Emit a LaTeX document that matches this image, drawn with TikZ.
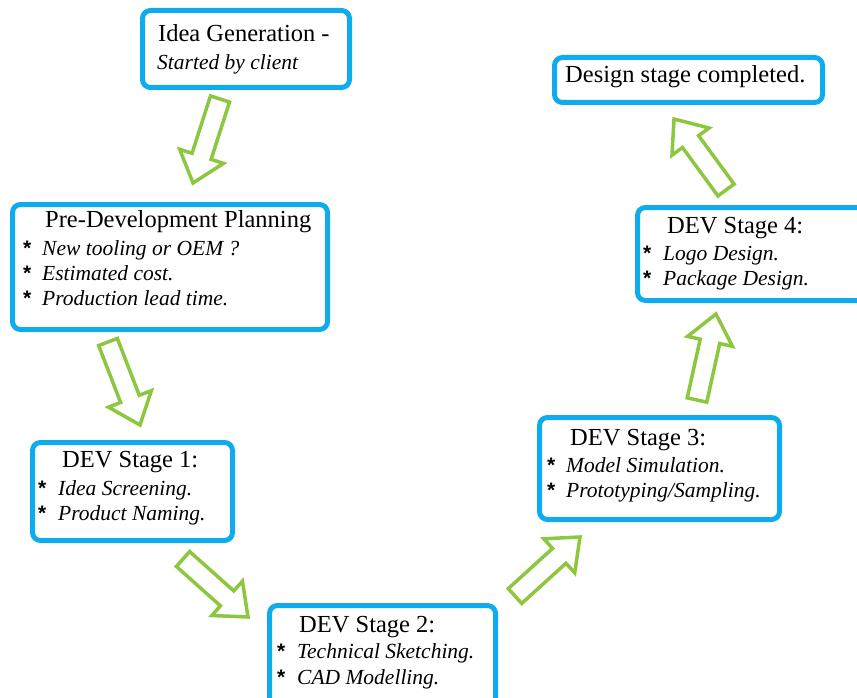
\documentclass[tikz,border=0pt]{standalone}
\usepackage{fontspec}
\setmainfont{Liberation Serif}
\newfontfamily\bulletfont{Liberation Sans}
\usetikzlibrary{calc}
\definecolor{boxblue}{RGB}{14,172,236}
\definecolor{arrowgreen}{RGB}{141,198,63}
\tikzset{
  stagebox/.style={draw=boxblue, line width=5pt, rounded corners=8pt, fill=white, inner sep=0pt, anchor=north west},
  titletext/.style={anchor=base west, inner sep=0pt, font=\fontsize{24.5}{28}\selectfont},
  itemtext/.style={anchor=base west, inner sep=0pt, font=\fontsize{21.5}{26}\selectfont\itshape},
  startext/.style={anchor=base west, inner sep=0pt, font=\fontsize{21}{24}\bulletfont\bfseries},
  blockarrow/.style={draw=arrowgreen, line width=3.5pt, fill=white, line join=miter},
}
\newcommand\hollowarrow[2]{%
  \coordinate (#1-h) at ($(#2)!28pt!(#1)$);
  \draw[blockarrow] ($(#1)!10pt!90:(#2)$) -- ($(#1-h)!10pt!90:(#2)$) -- ($(#1-h)!23pt!90:(#2)$)
    -- (#2) -- ($(#1-h)!23pt!-90:(#2)$) -- ($(#1-h)!10pt!-90:(#2)$) -- ($(#1)!10pt!-90:(#2)$) -- cycle;
}
\begin{document}
\begin{tikzpicture}[x=1pt,y=-1pt]
\useasboundingbox (0,0) rectangle (857,698);
\clip (0,0) rectangle (857,698);
\fill[white] (0,0) rectangle (857,698);

% boxes
\node[stagebox, minimum width=207pt, minimum height=77pt] (idea) at (140,8) {};
\node[stagebox, minimum width=315pt, minimum height=125pt] (plan) at (10,202) {};
\node[stagebox, minimum width=200pt, minimum height=98pt] (s1) at (30,440) {};
\node[stagebox, minimum width=226pt, minimum height=107pt] (s2) at (267,603) {};
\node[stagebox, minimum width=240pt, minimum height=102pt] (s3) at (537,415) {};
\node[stagebox, minimum width=245pt, minimum height=93pt] (s4) at (635,205) {};
\node[stagebox, minimum width=268pt, minimum height=45pt] (done) at (552,55) {};

% texts
\node[titletext] (ideat) at (158,42) {Idea Generation -};
\node[itemtext] (ideai) at (157,70) {Started by client};

\node[titletext] (plant) at (45,227) {Pre-Development Planning};
\node[startext] (plans1) at (23,255) {*};
\node[itemtext] (plani1) at (42,255) {New tooling or OEM ?};
\node[startext] (plans2) at (23,280) {*};
\node[itemtext] (plani2) at (42,280) {Estimated cost.};
\node[startext] (plans3) at (23,305) {*};
\node[itemtext] (plani3) at (42,305) {Production lead time.};

\node[titletext] (s1t) at (62,467) {DEV Stage 1:};
\node[startext] (s1s1) at (38,495) {*};
\node[itemtext] (s1i1) at (58,495) {Idea Screening.};
\node[startext] (s1s2) at (38,520) {*};
\node[itemtext] (s1i2) at (58,520) {Product Naming.};

\node[titletext] (s2t) at (299,632) {DEV Stage 2:};
\node[startext] (s2s1) at (277,658) {*};
\node[itemtext] (s2i1) at (297,658) {Technical Sketching.};
\node[startext] (s2s2) at (277,684) {*};
\node[itemtext] (s2i2) at (297,684) {CAD Modelling.};

\node[titletext] (s3t) at (570,445) {DEV Stage 3:};
\node[startext] (s3s1) at (547,472) {*};
\node[itemtext] (s3i1) at (566,472) {Model Simulation.};
\node[startext] (s3s2) at (547,497) {*};
\node[itemtext] (s3i2) at (566,497) {Prototyping/Sampling.};

\node[titletext] (s4t) at (667,233) {DEV Stage 4:};
\node[startext] (s4s1) at (643,260) {*};
\node[itemtext] (s4i1) at (663,260) {Logo Design.};
\node[startext] (s4s2) at (643,285) {*};
\node[itemtext] (s4i2) at (663,285) {Package Design.};

\node[titletext] (donet) at (565,83) {Design stage completed.};

% arrow end points
\coordinate (a1s) at (220,99);  \coordinate (a1e) at (193,183);
\coordinate (a2s) at (108,342); \coordinate (a2e) at (140,425);
\coordinate (a3s) at (183,559); \coordinate (a3e) at (248,617);
\coordinate (a4s) at (515,596); \coordinate (a4e) at (580,537);
\coordinate (a5s) at (697,400); \coordinate (a5e) at (716,314);
\coordinate (a6s) at (726,190); \coordinate (a6e) at (674,119);

\hollowarrow{a1s}{a1e}
\hollowarrow{a2s}{a2e}
\hollowarrow{a3s}{a3e}
\hollowarrow{a4s}{a4e}
\hollowarrow{a5s}{a5e}
\hollowarrow{a6s}{a6e}
\end{tikzpicture}
\end{document}
